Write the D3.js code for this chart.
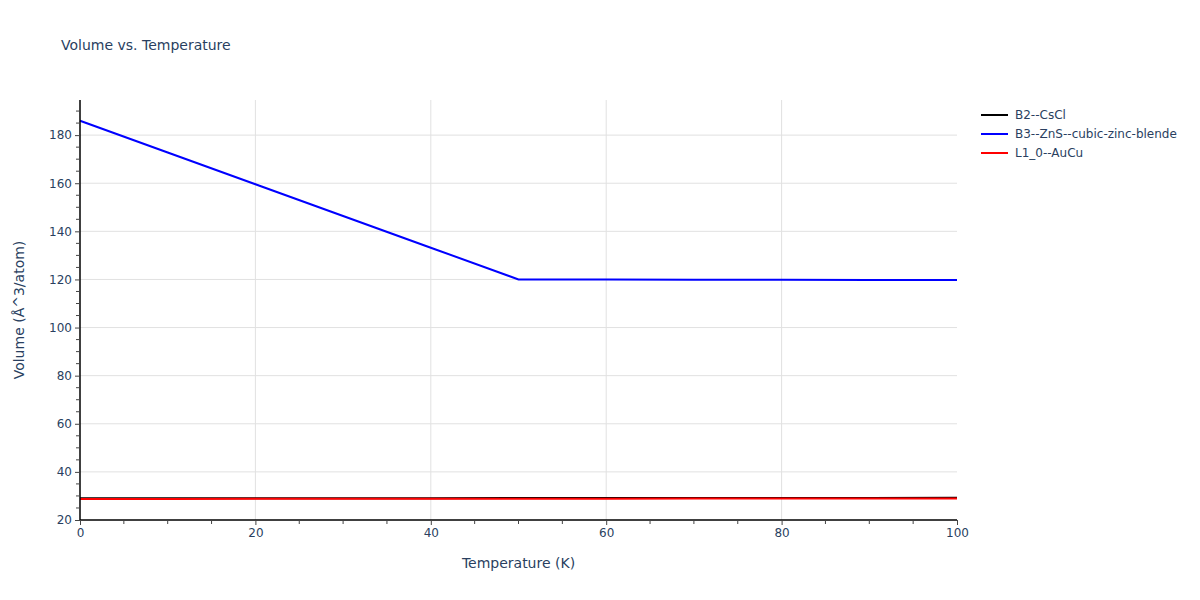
<!DOCTYPE html>
<html><head><meta charset="utf-8">
<script src="https://cdn.jsdelivr.net/npm/d3@7"></script>
<style>body{margin:0;background:#fff;} text{font-family:"DejaVu Sans",verdana,sans-serif;}</style>
</head><body>
<svg id="chart" width="1200" height="600"></svg>
<script>
const temps = [0,10,20,30,40,50,60,70,80,90,100];
const seriesNames = ["B2--CsCl","B3--ZnS--cubic-zinc-blende","L1_0--AuCu"];
const seriesColors = ["#000000","#0000ff","#ff0000"];
const b2Values = [29.0,29.02,29.04,29.06,29.08,29.1,29.12,29.14,29.16,29.18,29.2];
const b3Values = [186.0,172.8,159.6,146.4,133.2,120.0,119.95,119.9,119.85,119.8,119.75];
const l10Values = [28.75,28.77,28.79,28.81,28.83,28.85,28.87,28.89,28.91,28.93,28.95];
const xTicks = [0,20,40,60,80,100];
const yTicks = [20,40,60,80,100,120,140,160,180];
const titleText = "Volume vs. Temperature";
const xTitle = "Temperature (K)";
const yTitle = "Volume (Å^3/atom)";

const svg = d3.select("#chart");
const L=80,R=957,T=100,B=520;
const x = d3.scaleLinear().domain([0,100]).range([L,R]);
const y = d3.scaleLinear().domain([20,194.6]).range([B,T]);
const txtColor="#2a3f5f";
const FF='"DejaVu Sans",verdana,sans-serif';

// grid
svg.append("g").selectAll("line").data(xTicks.filter(d=>d>0&&d<100)).join("line")
  .attr("x1",d=>x(d)).attr("x2",d=>x(d)).attr("y1",T).attr("y2",B)
  .attr("stroke","#e1e1e1").attr("stroke-width",1);
svg.append("g").selectAll("line").data(yTicks.filter(d=>d>20)).join("line")
  .attr("x1",L).attr("x2",R).attr("y1",d=>y(d)).attr("y2",d=>y(d))
  .attr("stroke","#e1e1e1").attr("stroke-width",1);

// series
const allVals=[b2Values,b3Values,l10Values];
const line=d3.line().x((d,i)=>x(temps[i])).y(d=>y(d));
allVals.forEach((vals,k)=>{
  svg.append("path").datum(vals).attr("d",line).attr("fill","none")
    .attr("stroke",seriesColors[k]).attr("stroke-width",2);
});

// axes
const xAxis = d3.axisBottom(x).tickValues(xTicks).tickSize(5).tickPadding(3);
const gx = svg.append("g").attr("transform",`translate(0,${B})`).call(xAxis);
const xMinor = d3.range(0,101,5).filter(d=>!xTicks.includes(d));
gx.selectAll(".minor").data(xMinor).join("line").attr("class","minor")
  .attr("x1",d=>x(d)).attr("x2",d=>x(d)).attr("y1",0).attr("y2",4).attr("stroke","#444");
const yAxis = d3.axisLeft(y).tickValues(yTicks).tickSize(5).tickPadding(3);
const gy = svg.append("g").attr("transform",`translate(${L},0)`).call(yAxis);
const yMinor = d3.range(25,195,5).filter(d=>!yTicks.includes(d));
gy.selectAll(".minor").data(yMinor).join("line").attr("class","minor")
  .attr("x1",0).attr("x2",-4).attr("y1",d=>y(d)).attr("y2",d=>y(d)).attr("stroke","#444");
[gx,gy].forEach(g=>{
  g.select(".domain").attr("stroke","#000").attr("stroke-width",1.5);
  g.selectAll(".tick line").attr("stroke","#444");
  g.selectAll(".tick text").attr("fill",txtColor).attr("font-size",12).style("font-family",FF);
});
gx.select(".domain").attr("d",`M${L},0H${R}`);
gy.select(".domain").attr("d",`M0,${B}V${T}`);

// titles
svg.append("text").attr("x",61).attr("y",50).attr("fill",txtColor).attr("font-size",14).text(titleText);
svg.append("text").attr("x",(L+R)/2).attr("y",568).attr("text-anchor","middle").attr("fill",txtColor).attr("font-size",14).text(xTitle);
svg.append("text").attr("transform",`translate(24,${(T+B)/2}) rotate(-90)`).attr("text-anchor","middle").attr("fill",txtColor).attr("font-size",14).text(yTitle);

// legend
const lg = svg.append("g");
seriesNames.forEach((n,i)=>{
  const yy = 115 + i*19;
  lg.append("line").attr("x1",981).attr("x2",1008).attr("y1",yy).attr("y2",yy).attr("stroke",seriesColors[i]).attr("stroke-width",2);
  lg.append("text").attr("x",1015).attr("y",yy+4).attr("fill",txtColor).attr("font-size",12).text(n);
});
</script>
</body></html>
